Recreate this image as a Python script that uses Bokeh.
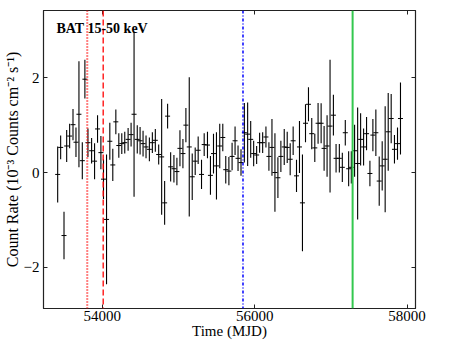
from bokeh.plotting import figure
from bokeh.models import Range1d, FixedTicker, LinearAxis, Span, Label, ColumnDataSource
from bokeh.embed import file_html
from bokeh.resources import INLINE

# ---- data ----
mjd = [53416, 53455, 53499, 53534, 53573, 53617, 53656, 53695, 53739, 53773,
       53813, 53861, 53900, 53939, 53983, 54017, 54057, 54100, 54139, 54179,
       54218, 54257, 54296, 54340, 54379, 54418, 54460,
       54497, 54536, 54575, 54619, 54658, 54697, 54741, 54780, 54819, 54858,
       54898, 54941, 54980, 55020, 55059, 55098, 55142, 55181, 55220, 55259,
       55303, 55338, 55381, 55420, 55460, 55499, 55542, 55582, 55621, 55662,
       55704, 55743, 55782, 55821, 55865, 55908, 55948, 55987, 56026, 56065,
       56105, 56148, 56187, 56227, 56266, 56305, 56344, 56388, 56427, 56466,
       56505, 56549, 56588, 56627, 56667, 56706, 56749, 56789, 56832, 56872,
       56911, 56950, 56989, 57033, 57068, 57111, 57150, 57189, 57233, 57268,
       57311, 57351, 57390, 57429, 57468, 57512, 57551, 57590, 57634, 57673,
       57712, 57752, 57791, 57834, 57874, 57913]

rate = [-0.04, 0.53, -1.33, 0.56, 0.77, 1.01, 0.64, 1.23, 0.25, 1.97,
        0.63, 0.46, 0.24, 0.92, 0.42, -0.14, -0.99, 0.66, 0.16, 1.07,
        0.57, 0.61, 0.63, 0.70, 0.80, 1.23, 0.70,
        0.67, 0.61, 0.54, 0.49, 0.63, 0.68, 0.38, 0.33, -0.64, 1.19,
        0.12, 0.08, 0.02, 0.51, 0.40, 1.00, 0.54, -0.09, 0.24, 0.47,
        -0.04, 0.59, 0.58, -0.06, 0.40, 0.14, 0.56, 0.74, 0.06, 0.03,
        0.34, 0.67, 0.30, 0.21, 0.84, 0.81, 0.70, 0.40, 0.37, 0.63,
        0.63, 0.75, 0.34, 0.53, 0.00, -0.11, 0.34, 0.54, 0.53, 0.28,
        0.67, -0.07, 0.54, -0.64, 1.04, 1.44, 0.82, 0.52, 1.04, 1.04,
        0.51, 0.56, 0.98, 1.21, 0.30, 0.30, 0.11, 0.84, 0.08, 0.11,
        0.46, 0.19, 0.70, 0.54, 0.82, -0.02, 0.79, 0.84, -0.18, 0.14,
        0.28, 0.86, 1.14, 0.49, 0.61, 1.14]

rate_err = [0.59, 0.25, 0.50, 0.34, 0.26, 0.33, 0.31, 1.12, 0.39, 0.41,
            0.30, 0.27, 0.38, 0.29, 0.35, 0.42, 1.37, 0.39, 0.34, 0.26,
            0.26, 0.22, 0.23, 0.24, 0.25, 1.74, 0.30,
            0.29, 0.27, 0.24, 0.25, 0.22, 0.24, 0.21, 1.22, 0.46, 0.26,
            0.31, 0.29, 0.29, 0.38, 0.31, 0.36, 1.47, 0.49, 0.29, 0.29,
            0.31, 0.24, 0.28, 0.41, 0.42, 0.71, 0.47, 0.29, 0.29, 0.30,
            0.29, 0.30, 0.27, 0.28, 0.63, 0.67, 0.39, 0.27, 0.19, 0.21,
            0.22, 0.22, 0.30, 0.60, 0.83, 0.43, 0.33, 0.38, 0.33, 0.34,
            0.30, 0.34, 0.55, 1.02, 0.40, 0.36, 0.33, 0.30, 0.43, 0.42,
            0.47, 0.65, 1.40, 0.43, 0.30, 0.30, 0.31, 0.27, 0.37, 0.34,
            0.55, 1.18, 0.55, 0.39, 0.35, 0.27, 0.34, 0.49, 0.52, 0.52,
            1.12, 0.82, 0.52, 0.30, 0.34, 0.76]

# vertical markers (MJD)
line_dotted_red = 53804
line_dashed_red = 54013
line_dashdot_blue = 55847
line_solid_green = 57285

x_ticks = [54000, 56000, 58000]
y_ticks = [-2, 0, 2]

FONT = "Liberation Serif"

lo = [r - e for r, e in zip(rate, rate_err)]
hi = [r + e for r, e in zip(rate, rate_err)]
src = ColumnDataSource(dict(t=mjd, r=rate, lo=lo, hi=hi))

p = figure(width=452, height=343, output_backend="svg", toolbar_location=None,
           x_range=Range1d(53230, 58110), y_range=Range1d(-2.87, 3.42),
           min_border_left=42, min_border_right=37, min_border_top=10,
           min_border_bottom=35)
p.background_fill_color = "white"
p.border_fill_color = "white"
p.outline_line_color = "#222222"
p.outline_line_width = 1.2
p.grid.visible = False

# axes
for ax, ticks in ((p.xaxis[0], x_ticks), (p.yaxis[0], y_ticks)):
    ax.ticker = FixedTicker(ticks=ticks)
    ax.major_tick_in = 4
    ax.major_tick_out = 0
    ax.minor_tick_line_color = None
    ax.axis_line_color = "#222222"
    ax.major_tick_line_color = "#222222"
    ax.major_label_text_font = FONT
    ax.major_label_text_font_size = "15px"
    ax.major_label_text_color = "black"
    ax.axis_label_text_font = FONT
    ax.axis_label_text_font_style = "normal"
    ax.axis_label_text_color = "black"

p.xaxis.axis_label = "Time (MJD)"
p.xaxis.axis_label_text_font_size = "15px"
p.xaxis.major_label_standoff = 2
p.xaxis.axis_label_standoff = -1
p.yaxis.axis_label = "Count Rate (10\u207b\u00b3 Counts cm\u207b\u00b2 s\u207b\u00b9)"
p.yaxis.axis_label_text_font_size = "16px"
p.yaxis.major_label_standoff = 4
p.yaxis.axis_label_standoff = 0

# mirrored ticks on top and right (no labels)
top = LinearAxis(ticker=FixedTicker(ticks=x_ticks), major_tick_in=4, major_tick_out=0,
                 minor_tick_line_color=None, major_label_text_font_size="1px",
                 major_label_text_color=None,
                 axis_line_color="#222222", major_tick_line_color="#222222",
                 major_label_standoff=0)
right = LinearAxis(ticker=FixedTicker(ticks=y_ticks), major_tick_in=4, major_tick_out=0,
                   minor_tick_line_color=None, major_label_text_font_size="1px",
                   major_label_text_color=None,
                   axis_line_color="#222222", major_tick_line_color="#222222",
                   major_label_standoff=0)
p.add_layout(top, "above")
p.add_layout(right, "right")

# vertical lines
p.add_layout(Span(location=line_dotted_red, dimension="height", line_color="red",
                  line_width=2, line_dash="1 2"))
p.add_layout(Span(location=line_dashed_red, dimension="height", line_color="red",
                  line_width=1.3, line_dash="6 3"))
p.add_layout(Span(location=line_dashdot_blue, dimension="height", line_color="blue",
                  line_width=1.5, line_dash="3 2 1 2"))
p.add_layout(Span(location=line_solid_green, dimension="height", line_color="#33c84e",
                  line_width=2))

# error bars and points
p.segment(x0="t", y0="lo", x1="t", y1="hi", source=src, line_color="black", line_width=1.1)
p.scatter(x="t", y="r", source=src, marker="dash", size=5, line_color="black", line_width=1)

p.add_layout(Label(x=53400, y=3.03, text="BAT 15-50 keV", text_font=FONT,
                   text_font_size="14px", text_font_style="bold", text_color="black",
                   text_baseline="alphabetic"))

open("out.html", "w").write(file_html(p, INLINE))
